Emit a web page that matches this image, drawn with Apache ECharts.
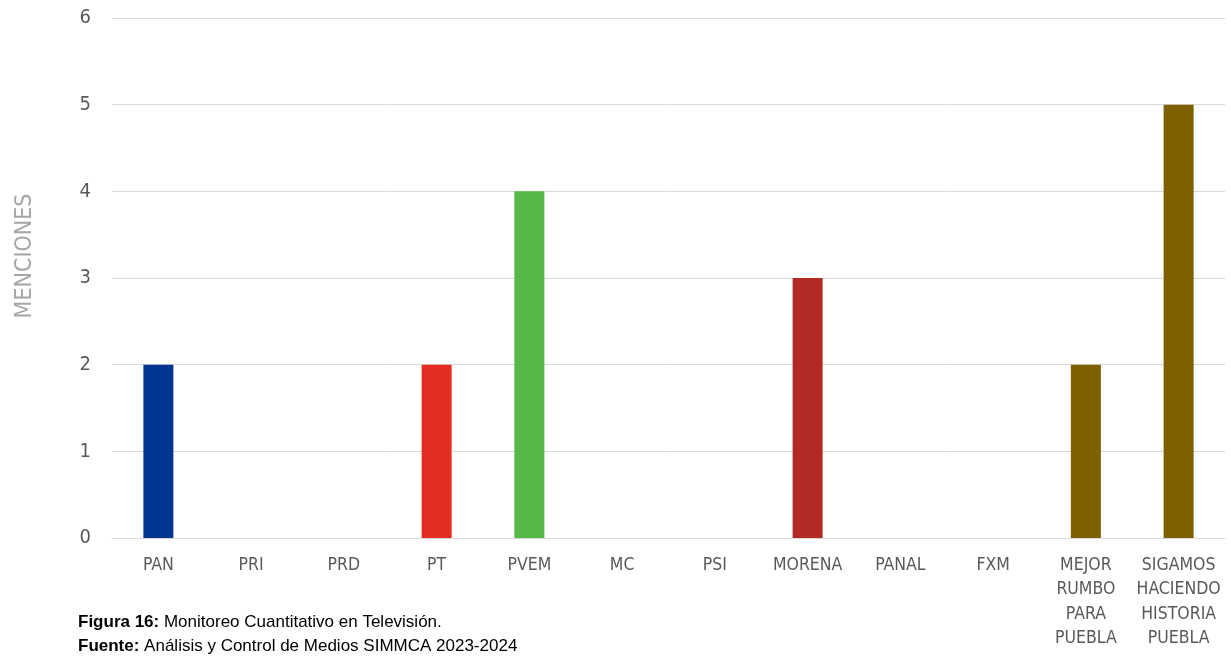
<!DOCTYPE html>
<html>
<head>
<meta charset="utf-8">
<script src="https://cdn.jsdelivr.net/npm/echarts@6/dist/echarts.min.js"></script>
<style>html,body{margin:0;padding:0;background:#fff;}#c{width:1231px;height:662px;}</style>
</head>
<body>
<div id="c"></div>
<script>
const categories = ['PAN','PRI','PRD','PT','PVEM','MC','PSI','MORENA','PANAL','FXM','MEJOR\nRUMBO\nPARA\nPUEBLA','SIGAMOS\nHACIENDO\nHISTORIA\nPUEBLA'];
const values = [2,0,0,2,4,0,0,3,0,0,2,5];
const barColors = ['#003591','#003591','#003591','#e32d22','#56b947','#56b947','#56b947','#b22a23','#b22a23','#b22a23','#7f6000','#7f6000'];
const yTicks = [0,1,2,3,4,5,6];
const axisName = 'MENCIONES';
const captionTitle = 'Figura 16:';
const captionText = ' Monitoreo Cuantitativo en Televisión.';
const sourceTitle = 'Fuente:';
const sourceText = ' Análisis y Control de Medios SIMMCA 2023-2024';

const condensed = '"DejaVu Sans Condensed", "Liberation Sans", sans-serif';
const font = '"Liberation Sans", Arial, sans-serif';
const chart = echarts.init(document.getElementById('c'));
chart.setOption({
  animation: false,
  grid: {left: 112, right: 6, top: 18, bottom: 124, containLabel: false},
  xAxis: {
    type: 'category',
    data: categories,
    axisLine: {show: true, lineStyle: {color: '#d9d9d9', width: 1}},
    axisTick: {show: false},
    axisLabel: {interval: 0, color: '#595959', fontFamily: condensed, fontSize: 17.5, lineHeight: 24.5, margin: 15}
  },
  yAxis: {
    type: 'value',
    min: 0, max: 6, interval: 1,
    axisLine: {show: false},
    axisTick: {show: false},
    splitLine: {lineStyle: {color: '#d9d9d9', width: 1}},
    axisLabel: {color: '#595959', fontFamily: condensed, fontSize: 20, margin: 21,
      formatter: v => yTicks.includes(v) ? String(v) : ''}
  },
  series: [{
    type: 'bar',
    barWidth: 30,
    data: values.map((v, i) => ({value: v, itemStyle: {color: barColors[i]}}))
  }],
  graphic: [
    {type: 'text', x: 25, y: 256, rotation: Math.PI / 2, style: {
      text: axisName, fill: '#a6a6a6', font: '23px ' + condensed, align: 'center', verticalAlign: 'middle'
    }},
    {type: 'text', left: 78, top: 614, style: {
      text: '{b|' + captionTitle + '}{n|' + captionText + '}',
      rich: {b: {fontWeight: 'bold', fontSize: 17, fontFamily: font, fill: '#000'}, n: {fontSize: 17, fontFamily: font, fill: '#000'}}
    }},
    {type: 'text', left: 78, top: 638, style: {
      text: '{b|' + sourceTitle + '}{n|' + sourceText + '}',
      rich: {b: {fontWeight: 'bold', fontSize: 17, fontFamily: font, fill: '#000'}, n: {fontSize: 17, fontFamily: font, fill: '#000'}}
    }}
  ]
});
</script>
</body>
</html>
